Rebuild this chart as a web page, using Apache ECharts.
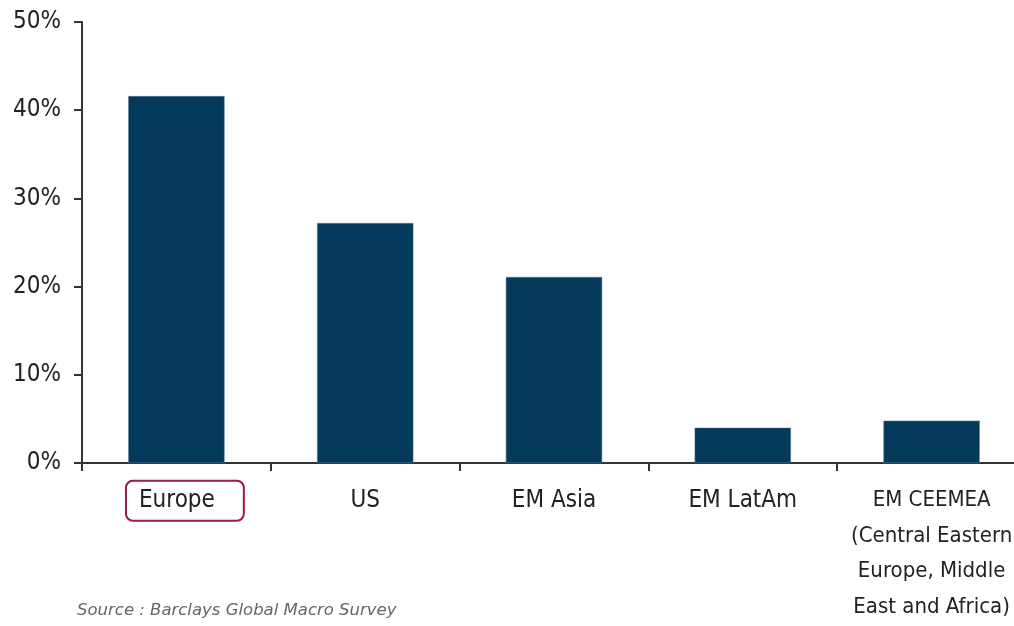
<!DOCTYPE html>
<html><head><meta charset="utf-8">
<script src="https://cdn.jsdelivr.net/npm/echarts@6/dist/echarts.min.js"></script>
<style>html,body{margin:0;padding:0;background:#fff;overflow:hidden}#c{width:1026px;height:626px}</style>
</head><body><div id="c"></div>
<script>
const categories = ['Europe', 'US', 'EM Asia', 'EM LatAm', 'EM CEEMEA\n(Central Eastern\nEurope, Middle\nEast and Africa)'];
const values = [41.6, 27.2, 21.1, 4.0, 4.8];
const yTicks = [0, 10, 20, 30, 40, 50];
const highlighted = 'Europe';
const sourceText = 'Source : Barclays Global Macro Survey';

const FONT = '"DejaVu Sans Condensed", "Liberation Sans", sans-serif';
const chart = echarts.init(document.getElementById('c'), null, {renderer: 'canvas'});
chart.setOption({
  animation: false,
  grid: {left: 82, top: 22, bottom: 163, right: 0, containLabel: false},
  xAxis: {
    type: 'category',
    data: categories,
    axisLine: {lineStyle: {color: '#333', width: 2}},
    axisTick: {show: true, length: 8, inside: false, lineStyle: {color: '#333', width: 2}},
    axisLabel: {
      interval: 0, margin: 20, color: '#222', fontFamily: FONT, fontSize: 24, lineHeight: 35.5,
      formatter: function (v) {
        if (v === highlighted) return '{sp| }{hl|' + v + '}';
        if (v.indexOf('\n') >= 0) return v.split('\n').map(function (s) { return '{sm|' + s + '}'; }).join('\n');
        return v;
      },
      rich: {
        sp: {width: 17, fontSize: 24},
        sm: {fontFamily: FONT, fontSize: 22, lineHeight: 35.5, color: '#222'},
        hl: {fontFamily: FONT, fontSize: 24, lineHeight: 26, color: '#222', borderColor: '#9b1b3c', borderWidth: 2,
             borderRadius: 7, padding: [8, 29, 8, 13]}
      }
    }
  },
  yAxis: {
    type: 'value', min: 0, max: 50, interval: 10,
    axisLine: {show: true, lineStyle: {color: '#333', width: 2}},
    axisTick: {show: true, length: 8, lineStyle: {color: '#333', width: 2}},
    splitLine: {show: false},
    axisLabel: {margin: 21, color: '#222', fontFamily: FONT, fontSize: 24,
      formatter: function (v) { return yTicks.indexOf(v) >= 0 ? v + '%' : ''; }}
  },
  series: [{
    type: 'bar', data: values, barCategoryGap: '49%',
    itemStyle: {color: '#033a5c', borderColor: '#5a7f99', borderWidth: 0.5}
  }],
  graphic: [{
    type: 'text', left: 77, top: 602,
    style: {text: sourceText, fill: '#666', font: 'italic 16.5px "DejaVu Sans", sans-serif'}
  }]
});
</script></body></html>
